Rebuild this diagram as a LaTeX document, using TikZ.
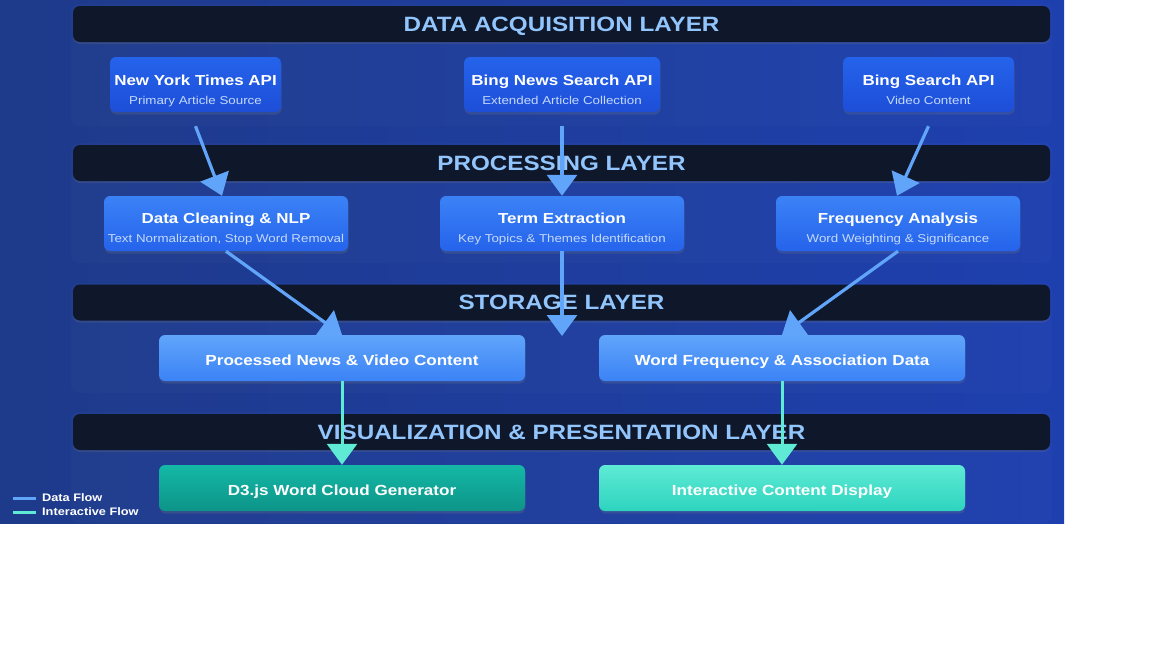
\documentclass[tikz,border=0pt]{standalone}
\usepackage{fontspec}
\setmainfont{Liberation Sans}[FakeStretch=1.17]
\usetikzlibrary{arrows.meta,shadows}
\definecolor{bgL}{HTML}{1E3A8A}
\definecolor{bgR}{HTML}{1E40AF}
\definecolor{hdrfill}{HTML}{0F172A}
\definecolor{hdrtext}{HTML}{93C5FD}
\definecolor{subtext}{HTML}{C5D9FC}
\definecolor{flowblue}{HTML}{60A5FA}
\definecolor{flowteal}{HTML}{5EEAD4}
\definecolor{acqT}{HTML}{2563EB}
\definecolor{acqB}{HTML}{1D4ED8}
\definecolor{proT}{HTML}{3B82F6}
\definecolor{proB}{HTML}{2563EB}
\definecolor{stoT}{HTML}{60A5FA}
\definecolor{stoB}{HTML}{3B82F6}
\definecolor{dT}{HTML}{14B8A6}
\definecolor{dB}{HTML}{0D9488}
\definecolor{iT}{HTML}{5EEAD4}
\definecolor{iB}{HTML}{2DD4BF}
\tikzset{
  panel/.style={fill=white,fill opacity=0.015,rounded corners=8pt},
  hdrbar/.style={fill=hdrfill,rounded corners=7pt,minimum width=977pt,minimum height=36pt,
    text=hdrtext,font=\fontsize{20.7}{24}\selectfont\bfseries,text height=14.8pt,text depth=0pt,inner sep=0pt,
    drop shadow={shadow xshift=0pt,shadow yshift=-2pt,opacity=0.2}},
  boxbase/.style={rounded corners=6pt,inner sep=0pt,
    drop shadow={shadow xshift=0.5pt,shadow yshift=-2.5pt,opacity=0.22}},
  acqbox/.style={boxbase,top color=acqT,bottom color=acqB,minimum height=55pt},
  probox/.style={boxbase,top color=proT,bottom color=proB,minimum height=55pt,minimum width=244pt},
  lowbox/.style={boxbase,minimum height=46pt,minimum width=366pt,
    text=white,font=\fontsize{14.6}{17}\selectfont\bfseries,text height=14.5pt,text depth=0pt},
  stobox/.style={lowbox,top color=stoT,bottom color=stoB},
  d3box/.style={lowbox,top color=dT,bottom color=dB},
  intbox/.style={lowbox,top color=iT,bottom color=iB},
  ttl/.style={text=white,font=\fontsize{14.5}{17}\selectfont\bfseries,text height=10.4pt,text depth=0pt,inner sep=0pt},
  subt/.style={text=subtext,font=\fontsize{11.4}{13}\selectfont,text height=8.1pt,text depth=0pt,inner sep=0pt},
  dflow/.style={draw=flowblue,line width=3.2pt,-{Triangle[length=21pt,width=30pt]}},
  iflow/.style={draw=flowteal,line width=3pt,-{Triangle[length=21pt,width=30pt]}},
  legtxt/.style={text=white,font=\fontsize{10.9}{12}\selectfont\bfseries,anchor=west,inner sep=0pt,text height=7.8pt,text depth=0pt},
}
\begin{document}
\begin{tikzpicture}[x=1pt,y=-1pt]
\useasboundingbox (0,0) rectangle (1152,648);
\fill[white] (0,0) rectangle (1152,648);
\shade[left color=bgL,right color=bgR] (0,0) rectangle (1064,523);

% layer panels
\fill[panel] (71,4) rectangle (1052,126);
\fill[panel] (71,143) rectangle (1052,263);
\fill[panel] (71,283) rectangle (1052,393);
\fill[panel] (71,412) rectangle (1052,523);

% headers
\node[hdrbar] (h1) at (561.5,24) {DATA ACQUISITION LAYER};
\node[hdrbar] (h2) at (561.5,163) {PROCESSING LAYER};
\node[hdrbar] (h3) at (561.5,302.5) {STORAGE LAYER};
\node[hdrbar] (h4) at (561.5,432) {VISUALIZATION \& PRESENTATION LAYER};

% acquisition layer
\node[acqbox,minimum width=171pt] (nyt) at (195.5,84.5) {};
\node[ttl] (nytT) at (195.5,80) {New York Times API};
\node[subt] (nytS) at (195.5,100) {Primary Article Source};
\node[acqbox,minimum width=196pt] (bnews) at (562,84.5) {};
\node[ttl] (bnewsT) at (562,80) {Bing News Search API};
\node[subt] (bnewsS) at (562,100) {Extended Article Collection};
\node[acqbox,minimum width=171pt] (bsearch) at (928.5,84.5) {};
\node[ttl] (bsearchT) at (928.5,80) {Bing Search API};
\node[subt] (bsearchS) at (928.5,100) {Video Content};

% processing layer
\node[probox] (clean) at (226,223.5) {};
\node[ttl] (cleanT) at (226,218) {Data Cleaning \& NLP};
\node[subt] (cleanS) at (226,238) {Text Normalization, Stop Word Removal};
\node[probox] (term) at (562,223.5) {};
\node[ttl] (termT) at (562,218) {Term Extraction};
\node[subt] (termS) at (562,238) {Key Topics \& Themes Identification};
\node[probox] (freq) at (898,223.5) {};
\node[ttl] (freqT) at (898,218) {Frequency Analysis};
\node[subt] (freqS) at (898,238) {Word Weighting \& Significance};

% storage layer
\node[stobox] (proc) at (342,358) {Processed News \& Video Content};
\node[stobox] (wfreq) at (782,358) {Word Frequency \& Association Data};

% visualization layer
\node[d3box] (d3) at (342,488) {D3.js Word Cloud Generator};
\node[intbox] (disp) at (782,488) {Interactive Content Display};

% connectors
\coordinate (termEnd) at (562,336);
\draw[dflow] ([yshift=-14pt]nyt.south) -- ([xshift=-4pt]clean.north);
\draw[dflow] ([yshift=-14pt]bnews.south) -- (term.north);
\draw[dflow] ([yshift=-14pt]bsearch.south) -- ([xshift=-1pt]freq.north);
\draw[dflow] (clean.south) -- (proc.north);
\draw[dflow] (term.south) -- (termEnd);
\draw[dflow] (freq.south) -- (wfreq.north);
\draw[iflow] (proc.south) -- (d3.north);
\draw[iflow] (wfreq.south) -- (disp.north);

% legend
\coordinate (l1a) at (13,498);
\coordinate (l1b) at (36,498);
\coordinate (l2a) at (13,512);
\coordinate (l2b) at (36,512);
\draw[flowblue,line width=3pt] (l1a) -- (l1b);
\draw[flowteal,line width=3pt] (l2a) -- (l2b);
\node[legtxt] (leg1) at (42,498) {Data Flow};
\node[legtxt] (leg2) at (42,512) {Interactive Flow};
\end{tikzpicture}
\end{document}
